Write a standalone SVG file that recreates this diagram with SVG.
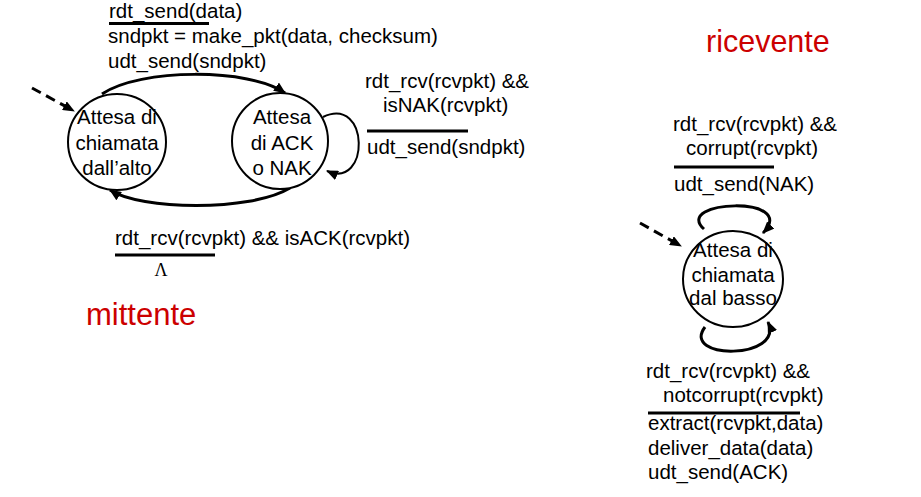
<svg xmlns="http://www.w3.org/2000/svg" width="921" height="497" viewBox="0 0 921 497">
<style>
.t{font-family:"Liberation Sans",Arial,sans-serif;font-size:20.5px;fill:#000}
.c{text-anchor:middle}
.st{fill:#fff;stroke:#000;stroke-width:2}
.e{fill:none;stroke:#000;stroke-width:3}
.d{fill:none;stroke:#000;stroke-width:3;stroke-dasharray:10 6}
.bar{stroke:#000;stroke-width:3}
.red{font-family:"Liberation Sans",Arial,sans-serif;fill:#cc0000}
</style>
<defs>
<marker id="ah" markerUnits="userSpaceOnUse" markerWidth="12" markerHeight="10" refX="11" refY="5" orient="auto">
<path d="M0,0 L12,5 L0,10 z" fill="#000"/>
</marker>
</defs>
<g id="connectors">
<line class="d" x1="32" y1="88" x2="74" y2="111" marker-end="url(#ah)"/>
<path class="e" d="M102,94 C140,68 250,68 285,93" marker-end="url(#ah)"/>
<path class="e" d="M290,188 C250,212 140,210 110,190" marker-end="url(#ah)"/>
<path class="e" style="stroke-width:2" d="M323,117 C370,95 370,190 327,171" marker-end="url(#ah)"/>
<line class="d" x1="640" y1="223" x2="681" y2="246" marker-end="url(#ah)"/>
<path class="e" d="M704,229 C672,200 800,195 763,233" marker-end="url(#ah)"/>
<path class="e" d="M705,327 C680,360 785,360 768,322" marker-end="url(#ah)"/>
</g>
<g id="s1">
<ellipse class="st" cx="117" cy="142" rx="49" ry="48"/>
<text class="t c" x="117" y="124">Attesa di</text>
<text class="t c" x="117" y="150">chiamata</text>
<text class="t c" x="117" y="175">dall’alto</text>
</g>
<g id="s2">
<ellipse class="st" cx="280" cy="141" rx="48" ry="48"/>
<text class="t c" x="282" y="124">Attesa</text>
<text class="t c" x="282" y="150">di ACK</text>
<text class="t c" x="282" y="175">o NAK</text>
</g>
<g id="s3">
<ellipse class="st" cx="733" cy="279" rx="50" ry="48"/>
<text class="t c" x="733" y="257">Attesa di</text>
<text class="t c" x="733" y="282">chiamata</text>
<text class="t c" x="733" y="305">dal basso</text>
</g>
<g id="labels">
<text class="t" x="109" y="17.5">rdt_send(data)</text>
<line class="bar" x1="109" y1="23.5" x2="209" y2="23.5"/>
<text class="t" x="108" y="43">sndpkt = make_pkt(data, checksum)</text>
<text class="t" x="108" y="68">udt_send(sndpkt)</text>
<text class="t" x="365" y="88">rdt_rcv(rcvpkt) &amp;&amp;</text>
<text class="t" x="383" y="112">isNAK(rcvpkt)</text>
<line class="bar" x1="367" y1="131" x2="468" y2="131"/>
<text class="t" x="367" y="154">udt_send(sndpkt)</text>
<text class="t" x="115" y="245">rdt_rcv(rcvpkt) &amp;&amp; isACK(rcvpkt)</text>
<line class="bar" x1="115" y1="255" x2="215" y2="255"/>
<text x="161" y="276" text-anchor="middle" font-family="'Liberation Serif','Times New Roman',serif" font-size="18">Λ</text>
<text class="red" x="86" y="325" font-size="31">mittente</text>
<text class="red" x="706" y="52" font-size="30.5">ricevente</text>
<text class="t" x="673" y="131">rdt_rcv(rcvpkt) &amp;&amp;</text>
<text class="t" x="686" y="155">corrupt(rcvpkt)</text>
<line class="bar" x1="674" y1="167" x2="774" y2="167"/>
<text class="t" x="674" y="191">udt_send(NAK)</text>
<text class="t" x="646" y="378">rdt_rcv(rcvpkt) &amp;&amp;</text>
<text class="t" x="663" y="402">notcorrupt(rcvpkt)</text>
<line class="bar" x1="648" y1="413" x2="800" y2="413"/>
<text class="t" x="648" y="430">extract(rcvpkt,data)</text>
<text class="t" x="648" y="455">deliver_data(data)</text>
<text class="t" x="648" y="479">udt_send(ACK)</text>
</g>
</svg>
